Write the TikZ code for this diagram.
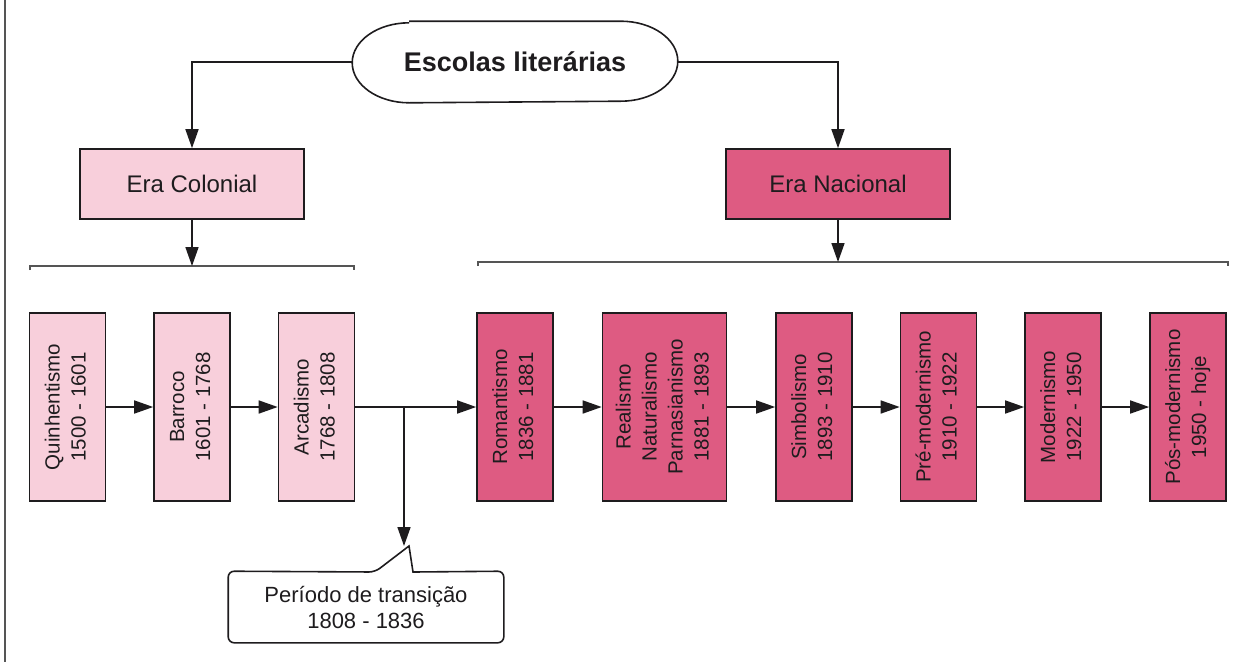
\documentclass[tikz,border=0pt]{standalone}
\usepackage{fontspec}
\setmainfont{Liberation Sans}
\usepackage{graphicx}
\usepackage{xcolor}
\usepackage{tikz}
\usetikzlibrary{arrows.meta,calc}

\definecolor{colpink}{RGB}{248,207,219}
\definecolor{natpink}{RGB}{222,91,130}
\definecolor{ink}{RGB}{30,28,30}
\definecolor{rule}{RGB}{85,85,85}

\newcommand{\vlabel}[1]{\rotatebox{90}{\begin{tabular}{@{}c@{}}#1\end{tabular}}}

\begin{document}
\begin{tikzpicture}[x=1pt, y=-1pt, line width=1.6pt, draw=ink, text=ink,
        arr/.style={-{Triangle[length=19pt,width=13pt]}},
        era/.style={draw, minimum width=224pt, minimum height=70pt, inner sep=0pt,
            font=\fontsize{24}{28}\selectfont},
        school/.style={draw, minimum width=76pt, minimum height=188pt, inner sep=0pt,
            font=\fontsize{20.5}{26}\selectfont},
        bracket/.style={draw=rule, line width=1.3pt}]
            \useasboundingbox (0,0) rectangle (1255,662);
            \draw[draw=rule, line width=1.5pt] (5,0) -- (5,662);

            \node[minimum width=324pt, minimum height=80pt, inner sep=0pt,
                font=\fontsize{27}{32}\selectfont\bfseries] (title) at (515,62) {Escolas literárias};
            \draw ($(title.north west)+(57,0)$) -- ($(title.north east)+(-57,0)$)
                arc[start angle=90, end angle=-90, x radius=57pt, y radius=40pt]
                -- ($(title.south west)+(57,0)$)
                arc[start angle=270, end angle=90, x radius=57pt, y radius=40pt];

            \node[era, fill=colpink] (colonial) at (192,184) {Era Colonial};
            \node[era, fill=natpink] (national) at (838,184) {Era Nacional};

            \draw[arr] (title.west) -| (colonial.north);
            \draw[arr] (title.east) -| (national.north);

            \coordinate (cbl) at (30,266);
            \coordinate (cbr) at (354,266);
            \coordinate (nbl) at (478,262);
            \coordinate (nbr) at (1228,262);
            \draw[bracket] ($(cbl)+(0,4)$) -- (cbl) -- (cbr) -- ++(0,4);
            \draw[bracket] ($(nbl)+(0,4)$) -- (nbl) -- (nbr) -- ++(0,4);
            \draw[arr] (colonial.south) -- (colonial.south |- cbl);
            \draw[arr] (national.south) -- (national.south |- nbl);

            \node[school, fill=colpink] (quinh) at (67.5,407) {\vlabel{Quinhentismo\\1500 - 1601}};
            \node[school, fill=colpink] (barroco) at (192,407) {\vlabel{Barroco\\1601 - 1768}};
            \node[school, fill=colpink] (arcad) at (316.5,407) {\vlabel{Arcadismo\\1768 - 1808}};
            \node[school, fill=natpink] (romant) at (515,407) {\vlabel{Romantismo\\1836 - 1881}};
            \node[school, fill=natpink, minimum width=124pt] (realismo) at (664.5,407)
                {\vlabel{Realismo\\Naturalismo\\Parnasianismo\\1881 - 1893}};
            \node[school, fill=natpink] (simbol) at (814,407) {\vlabel{Simbolismo\\1893 - 1910}};
            \node[school, fill=natpink] (premod) at (938.5,407) {\vlabel{Pré-modernismo\\1910 - 1922}};
            \node[school, fill=natpink] (modern) at (1063,407) {\vlabel{Modernismo\\1922 - 1950}};
            \node[school, fill=natpink] (posmod) at (1188,407) {\vlabel{Pós-modernismo\\1950 - hoje}};

            \draw[arr] (quinh) -- (barroco);
            \draw[arr] (barroco) -- (arcad);
            \draw[arr] (arcad) -- (romant);
            \draw[arr] (romant) -- (realismo);
            \draw[arr] (realismo) -- (simbol);
            \draw[arr] (simbol) -- (premod);
            \draw[arr] (premod) -- (modern);
            \draw[arr] (modern) -- (posmod);

            \node[minimum width=274pt, minimum height=70pt, inner sep=0pt, align=center,
                font=\fontsize{22}{26}\selectfont] (transition) at (366,607)
                {Período de transição\\1808 - 1836};
            \coordinate (split) at (404,407);
            \coordinate (tip) at (409,546);
            \coordinate (tipl) at (375,572);
            \coordinate (tipr) at (413,572);
            \draw (tipl) -- (tip) -- (tipr) [rounded corners=6pt] -- (transition.north east)
                -- (transition.south east) -- (transition.south west)
                -- (transition.north west) -- cycle;
            \draw[arr] (split) -- (split |- tip);
\end{tikzpicture}
\end{document}
